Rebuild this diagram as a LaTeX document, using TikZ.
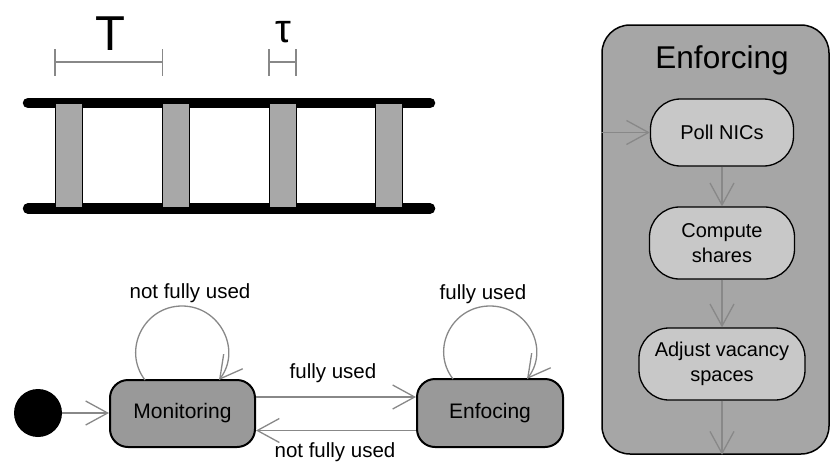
\documentclass[tikz,border=0pt]{standalone}
\usepackage{fontspec}
\setmainfont{Liberation Sans}
\usetikzlibrary{arrows.meta,calc}

\definecolor{statefill}{HTML}{999999}
\definecolor{panelfill}{HTML}{A6A6A6}
\definecolor{pillfill}{HTML}{C8C8C8}
\definecolor{slotfill}{HTML}{A8A8A8}
\definecolor{wire}{HTML}{888888}

\tikzset{
  txt/.style={font=\fontsize{20.5}{25}\selectfont, inner sep=0pt},
  statebox/.style={draw=black, line width=2pt, fill=statefill, rounded corners=18pt,
    minimum width=145pt, minimum height=67pt, inner sep=0pt, font=\fontsize{21}{25}\selectfont},
  pill/.style={draw=black, line width=1.3pt, fill=pillfill, rounded corners=30pt,
    inner sep=0pt, align=center, font=\fontsize{20}{25}\selectfont},
  flow/.style={draw=wire, line width=1.3pt,
    -{Straight Barb[length=22pt,width=24pt,line width=1.3pt]}},
  rail/.style={line width=10.5pt, line cap=round},
  slotedge/.style={line width=1pt},
  dimline/.style={draw=wire, line width=1.5pt},
}

\begin{document}
\begin{tikzpicture}[x=1pt,y=-1pt]
\useasboundingbox (0,0) rectangle (832,461);

% ---- time line: period T and slot length tau ----
\draw[rail] (28,103) -- (430,103);
\draw[rail] (28,208.5) -- (430,208.5);
\foreach \x in {55,162.5,269,375.5}{
  \fill[slotfill] (\x,104) rectangle (\x+27,207);
  \draw[slotedge] (\x,104) -- (\x,207) (\x+27,104) -- (\x+27,207);
}

\draw[dimline] (55,62) -- (162.5,62) (55,49) -- (55,76) (162.5,49) -- (162.5,76);
\draw[dimline] (269,62) -- (296,62) (269,49) -- (269,76) (296,49) -- (296,76);
\node[anchor=base, inner sep=0pt, font=\fontsize{49}{50}\selectfont] (Tlab) at (110,50) {T};
\node[anchor=base, inner sep=0pt, font=\fontsize{40}{42}\selectfont] (taulab) at (283,42) {τ};

% ---- state machine ----
\node[circle, fill=black, minimum size=48pt, inner sep=0pt] (init) at (38,413) {};
\node[statebox] (mon) at (182.5,413.5) {Monitoring};
\node[statebox, minimum width=146pt, minimum height=68pt] (enf) at (490,413) {Enfocing};

\coordinate (fwdA) at ($(mon.east)+(0,-16.5)$);
\coordinate (fwdB) at (fwdA -| enf.west);
\coordinate (backA) at ($(enf.west)+(0,17.5)$);
\coordinate (backB) at (backA -| mon.east);
\draw[flow] (init.east) -- (init.east -| mon.west);
\draw[flow] (fwdA) -- (fwdB);
\draw[flow] (backA) -- (backB);

\coordinate (monA) at (145,380);
\coordinate (monB) at (219,380);
\draw[flow] (monA) .. controls (122,350) and (144,306) .. (182,306)
  .. controls (220,306) and (242,350) .. (monB);
\coordinate (enfA) at (453,379);
\coordinate (enfB) at (527,379);
\draw[flow] (enfA) .. controls (430,349) and (452,306) .. (490,306)
  .. controls (528,306) and (550,349) .. (enfB);

\node[txt] (l1) at (190,293) {not fully used};
\node[txt] (l2) at (483,294) {fully used};
\node[txt] (l3) at (333,373) {fully used};
\node[txt] (l4) at (335,452) {not fully used};

% ---- enforcing activity ----
\node[draw=black, line width=1.5pt, fill=panelfill, rounded corners=28pt,
  minimum width=227pt, minimum height=429pt, inner sep=0pt] (panel) at (715.5,239.5) {};
\node[anchor=base, inner sep=0pt, font=\fontsize{31.5}{34}\selectfont] (ptitle) at (722,68) {Enforcing};

\node[pill, minimum width=143pt, minimum height=67pt] (poll) at (722,132.5) {Poll NICs};
\node[pill, minimum width=145pt, minimum height=72pt] (comp) at (722,243) {Compute\\shares};
\node[pill, minimum width=166pt, minimum height=72pt] (adj) at (722,364) {Adjust vacancy\\spaces};

\coordinate (entry) at (panel.west |- poll.west);
\coordinate (exit) at (adj.south |- panel.south);
\draw[flow] (entry) -- (poll.west);
\draw[flow] (poll.south) -- (comp.north);
\draw[flow] (comp.south) -- (adj.north);
\draw[flow] (adj.south) -- (exit);
\end{tikzpicture}
\end{document}
